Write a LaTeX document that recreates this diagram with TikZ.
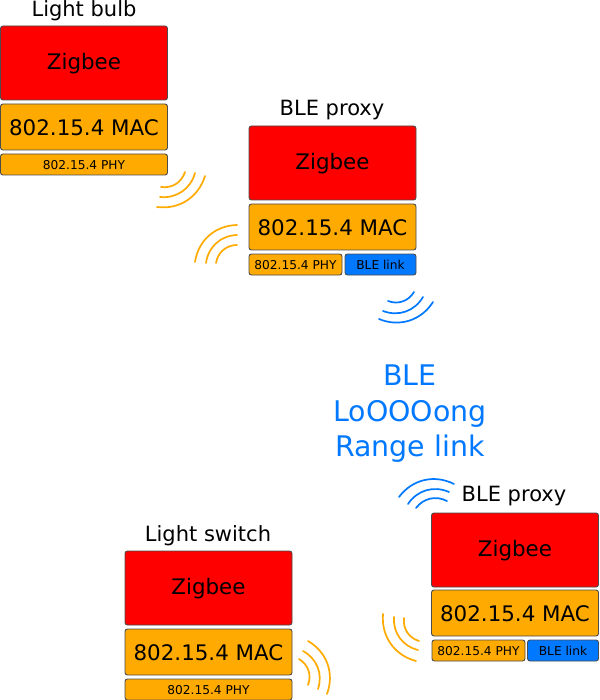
\documentclass[tikz,border=0pt]{standalone}
\usepackage{fontspec}
\setmainfont{DejaVu Sans}
\usetikzlibrary{positioning}
\definecolor{laranja}{HTML}{FFAA00}
\definecolor{azul}{HTML}{0078FF}

\begin{document}
\begin{tikzpicture}[
    x=1pt,
    y=-1pt,
    camada/.style={
        rectangle,
        rounded corners=2.5pt,
        draw=black!70,
        line width=0.9pt,
        align=center,
        inner sep=0pt,
        text=black
    },
    zigbee/.style={
        camada,
        fill=red,
        minimum width=167pt,
        minimum height=74pt,
        text height=18.3pt,
        font=\fontsize{21.4}{24}\selectfont
    },
    mac/.style={
        camada,
        fill=laranja,
        minimum width=167pt,
        minimum height=46pt,
        text height=17.6pt,
        font=\fontsize{21.4}{24}\selectfont
    },
    phy/.style={
        camada,
        fill=laranja,
        minimum width=167pt,
        minimum height=21pt,
        text height=9.9pt,
        font=\fontsize{12.2}{14}\selectfont
    },
    phycurto/.style={phy, minimum width=93pt},
    blelink/.style={phy, fill=azul, minimum width=71pt},
    titulo/.style={inner sep=0pt, font=\fontsize{21}{24}\selectfont},
    ondalaranja/.style={draw=laranja, line width=1.7pt, line cap=round},
    ondaazul/.style={draw=azul, line width=1.7pt, line cap=round}
]
\useasboundingbox (0,0) rectangle (599,700);

% LIGHT BULB
\node[titulo] (tituloBulb) at (84,11) {Light bulb};
\node[zigbee] (zigbeeBulb) at (84,63) {Zigbee};
\node[mac] (macBulb) at (84,127) {802.15.4 MAC};
\node[phy] (phyBulb) at (84,164.5) {802.15.4 PHY};

% PRIMEIRO BLE PROXY
\node[titulo] (tituloProxyA) at (332,110.5) {BLE proxy};
\node[zigbee] (zigbeeProxyA) at (332.5,163) {Zigbee};
\node[mac] (macProxyA) at (332.5,227) {802.15.4 MAC};
\node[phycurto] (phyProxyA) at (295.5,264.5) {802.15.4 PHY};
\node[blelink] (bleProxyA) at (380.5,264.5) {BLE link};

% TEXTO DO ENLACE
\node[align=center, text=azul, inner sep=0pt, font=\fontsize{28.4}{35.5}\selectfont] (enlace) at (410,414) {BLE\\LoOOOong\\Range link};

% SEGUNDO BLE PROXY
\node[titulo] (tituloProxyB) at (514,496.5) {BLE proxy};
\node[zigbee] (zigbeeProxyB) at (515,550) {Zigbee};
\node[mac] (macProxyB) at (515,613) {802.15.4 MAC};
\node[phycurto] (phyProxyB) at (478.5,650.5) {802.15.4 PHY};
\node[blelink] (bleProxyB) at (563,650.5) {BLE link};

% LIGHT SWITCH
\node[titulo] (tituloSwitch) at (208,535.5) {Light switch};
\node[zigbee] (zigbeeSwitch) at (208.5,588) {Zigbee};
\node[mac] (macSwitch) at (208.5,652) {802.15.4 MAC};
\node[phy] (phySwitch) at (208.5,689.5) {802.15.4 PHY};

% --- ONDAS 802.15.4 ---
\draw[ondalaranja] (161,187) to[bend right=40] (185,172);
\draw[ondalaranja] (160,197) to[bend right=40] (195,173);
\draw[ondalaranja] (157,207) to[bend right=40] (205,176);

\draw[ondalaranja] (195,262) to[bend left=40] (237,225);
\draw[ondalaranja] (206,263) to[bend left=40] (237,235);
\draw[ondalaranja] (216,263) to[bend left=40] (237,245);

\draw[ondalaranja] (383,614) to[bend right=40] (416,661);
\draw[ondalaranja] (394,617) to[bend right=40] (418,650);
\draw[ondalaranja] (404,618) to[bend right=40] (419,641);

\draw[ondalaranja] (308,641) to[bend left=40] (327,694);
\draw[ondalaranja] (303,651) to[bend left=40] (318,689);
\draw[ondalaranja] (299,659) to[bend left=40] (308,685);

% --- ONDAS BLE ---
\draw[ondaazul] (388,301) to[bend right=40] (414,292);
\draw[ondaazul] (383,311) to[bend right=40] (423,297);
\draw[ondaazul] (379,319) to[bend right=40] (433,302);

\draw[ondaazul] (399,497) to[bend left=40] (454,484);
\draw[ondaazul] (408,504) to[bend left=40] (449,492);
\draw[ondaazul] (416,508) to[bend left=40] (447,501);

\end{tikzpicture}
\end{document}
